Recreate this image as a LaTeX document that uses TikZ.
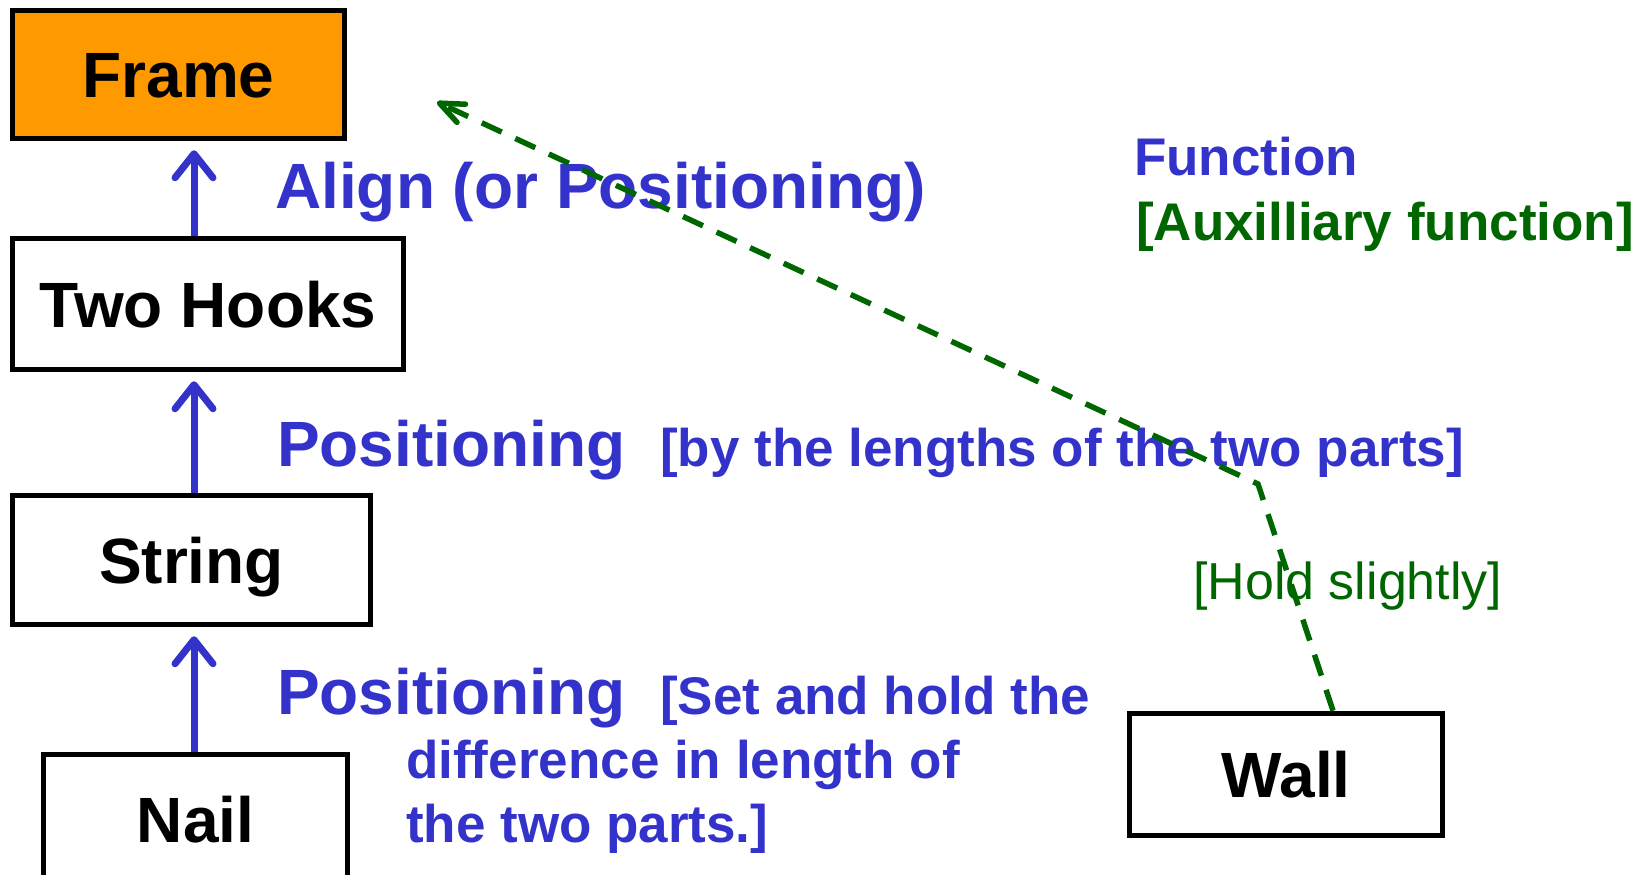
\documentclass[tikz,border=0pt]{standalone}
\usepackage{fontspec}
\setmainfont{Liberation Sans}
\usetikzlibrary{arrows.meta}
\definecolor{fblue}{HTML}{3333CC}
\definecolor{fgreen}{HTML}{006600}
\definecolor{forange}{HTML}{FF9900}
\begin{document}
\begin{tikzpicture}[x=1pt,y=-1pt,
 box/.style={draw=black, line width=5.5pt, inner sep=0pt, font=\fontsize{64}{70}\selectfont\bfseries, text height=46pt, text depth=0pt},
 up/.style={draw=fblue, line width=7pt, -{Straight Barb[length=24pt,width=38pt,round]}, shorten >=9pt},
 lbl/.style={anchor=base west, inner sep=0pt, text=fblue, font=\fontsize{64}{70}\selectfont\bfseries},
 note/.style={anchor=base west, inner sep=0pt, text=fblue, font=\fontsize{53}{64}\selectfont\bfseries},
 aux/.style={draw=fgreen, line width=5.5pt, dash pattern=on 22pt off 15pt, -{Straight Barb[length=24pt,width=20pt,round]}}
]
\useasboundingbox (0,0) rectangle (1647,875);
\node[box, fill=forange, minimum width=332pt, minimum height=128pt] (frame) at (178.5,74.5) {Frame};
\node[box, minimum width=391pt, minimum height=131pt] (hooks) at (208,304) {Two Hooks};
\node[box, minimum width=358pt, minimum height=129pt] (string) at (191.5,560) {String};
\node[box, minimum width=304pt, minimum height=129pt] (nail) at (195.5,819) {Nail};
\node[box, minimum width=313pt, minimum height=122pt] (wall) at (1286,774.5) {Wall};

\coordinate (ax) at (194,0);
\draw[up] (hooks.north -| ax) -- (frame.south -| ax);
\draw[up] (string.north -| ax) -- (hooks.south -| ax);
\draw[up] (nail.north -| ax) -- (string.south -| ax);

\node[lbl] (align) at (275,208) {Align (or Positioning)};
\node[lbl] (pos1) at (277,466) {Positioning};
\node[note] (by) at (660,466) {[by the lengths of the two parts]};
\node[lbl] (pos2) at (277,714) {Positioning};
\node[note] (set1) at (660,714) {[Set and hold the};
\node[note] (set2) at (406,778) {difference in length of};
\node[note] (set3) at (406,842) {the two parts.]};
\node[note] (func) at (1134,175) {Function};
\node[note, text=fgreen] (auxl) at (1136,240) {[Auxilliary function]};
\node[anchor=base west, inner sep=0pt, text=fgreen, font=\fontsize{52}{60}\selectfont] (hold) at (1193,599) {[Hold slightly]};

\coordinate (bend) at (1258,484);
\coordinate (gtip) at (437,102);
\coordinate (wx) at (1333,0);
\draw[aux] (wall.north -| wx) -- (bend) -- (gtip);
\end{tikzpicture}
\end{document}
